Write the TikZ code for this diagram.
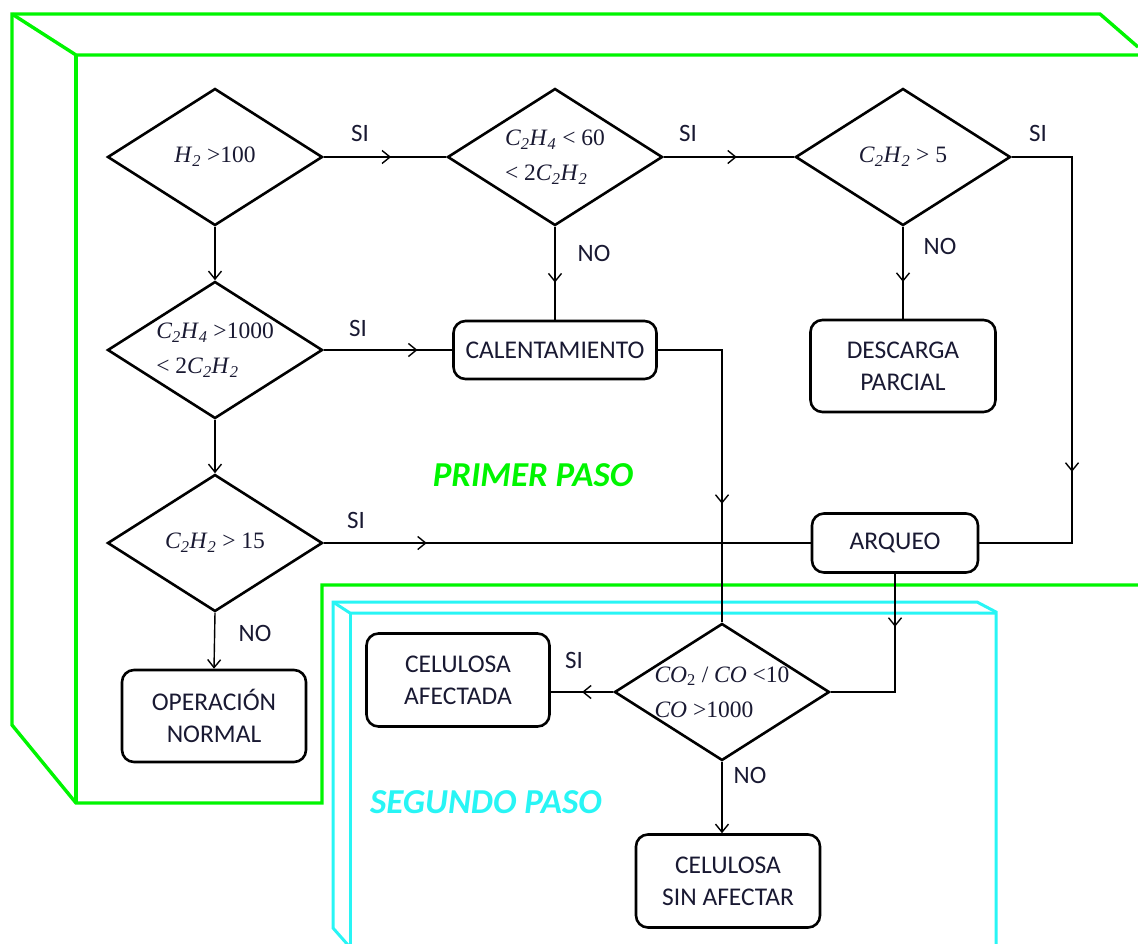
\documentclass[tikz,border=0pt]{standalone}
\usepackage{fontspec}
\setmainfont{Carlito}
\newfontfamily\tms{Liberation Serif}
\usetikzlibrary{shapes.geometric,arrows.meta,decorations.markings}
\definecolor{fgreen}{RGB}{0,245,0}
\definecolor{fcyan}{RGB}{40,245,245}
\definecolor{txt}{RGB}{25,25,50}
\newcommand{\ch}[2]{\textit{#1}\textsubscript{\textit{#2}}}
\tikzset{
  dia/.style={diamond, draw, line width=2.6pt, minimum width=215pt, minimum height=137pt,
    inner sep=0pt, shape aspect=1.57, font=\tms\fontsize{23.5}{35}\selectfont, align=left, text=txt},
  stepbox/.style={draw, rounded corners=12pt, line width=2.6pt, font=\fontsize{25.5}{32}\selectfont,
    align=center, inner sep=0pt, text=txt},
  conn/.style={line width=1.4pt},
  endarr/.style={-{Straight Barb[length=8pt,width=13pt]}},
  marr/.style={postaction={decorate},decoration={markings,mark=at position #1 with {\arrow{Straight Barb[length=8pt,width=13pt]}}}},
  lbl/.style={font=\fontsize{25}{28}\selectfont, text=txt, inner sep=0pt},
  gframe/.style={draw=fgreen, line width=3.4pt, line join=miter},
  cframe/.style={draw=fcyan, line width=3pt, line join=miter},
  paso/.style={font=\bfseries\itshape\fontsize{35}{40}\selectfont, inner sep=0pt}
}
\begin{document}
\begin{tikzpicture}[x=1pt,y=-1pt]
\useasboundingbox (0,0) rectangle (1138,943);
% green frame
\draw[gframe] (1138,47) -- (1100,14) -- (12,14) -- (12,725) -- (76,803) -- (322,803) -- (322,585) -- (1140,585);
\draw[gframe] (12,14) -- (76,55) -- (1140,55);
\draw[gframe] (76,55) -- (76,803);
% cyan frame
\draw[cframe] (996,945) -- (996,612) -- (977,602) -- (333,602) -- (333,928) -- (348,945);
\draw[cframe] (333,602) -- (350,613) -- (996,613);
\draw[cframe] (350,613) -- (350,945);

% diamonds
\node[dia] (d1) at (215,157) {\ch{H}{2} >100};
\node[dia] (d2) at (555,157) {\ch{C}{2}\ch{H}{4} < 60\\< 2\ch{C}{2}\ch{H}{2}};
\node[dia] (d3) at (903,157) {\ch{C}{2}\ch{H}{2} > 5};
\node[dia] (d4) at (215,350) {\ch{C}{2}\ch{H}{4} >1000\\< 2\ch{C}{2}\ch{H}{2}};
\node[dia] (d5) at (215,543) {\ch{C}{2}\ch{H}{2} > 15};
\node[dia] (d6) at (722,692) {\textit{CO}\textsubscript{2} / \textit{CO} <10\\\textit{CO} >1000};

% boxes
\node[stepbox, minimum width=203pt, minimum height=58pt] (cal) at (555,350) {CALENTAMIENTO};
\node[stepbox, minimum width=185pt, minimum height=92pt] (desc) at (903,366) {DESCARGA\\PARCIAL};
\node[stepbox, minimum width=166pt, minimum height=59pt] (arq) at (895,543) {ARQUEO};
\node[stepbox, minimum width=184pt, minimum height=92pt] (opn) at (214,716) {OPERACIÓN\\NORMAL};
\node[stepbox, minimum width=183pt, minimum height=93pt] (caf) at (458,680) {CELULOSA\\AFECTADA};
\node[stepbox, minimum width=184pt, minimum height=93pt] (csa) at (728,881) {CELULOSA\\SIN AFECTAR};

% connectors
\draw[conn, marr=0.55] (d1.east) -- (d2.west);
\draw[conn, marr=0.56] (d2.east) -- (d3.west);
\draw[conn, marr=375pt] (d3.east) -| (1072,543) -- (arq.east);
\draw[conn, endarr] (d1.south) -- (d4.north);
\draw[conn, endarr] (d4.south) -- (d5.north);
\draw[conn, endarr] (d5.south) -- (opn.north);
\draw[conn, marr=0.6] (d2.south) -- (cal.north);
\draw[conn, marr=0.6] (d3.south) -- (desc.north);
\draw[conn, marr=0.73] (d4.east) -- (cal.west);
\draw[conn, marr=218pt] (cal.east) -| (d6.north);
\draw[conn, marr=103pt] (d5.east) -- (arq.west);
\draw[conn, marr=53pt] (arq.south) |- (d6.east);
\draw[conn, marr=0.5] (d6.west) -- (d6.west -| caf.east);
\draw[conn, endarr] (d6.south) -- (d6.south |- csa.north);

% labels
\node[lbl] (s1) at (360,133) {SI};
\node[lbl] (s2) at (688,133) {SI};
\node[lbl] (s3) at (1038,133) {SI};
\node[lbl] (s4) at (358,328) {SI};
\node[lbl] (s5) at (356,520) {SI};
\node[lbl] (s6) at (574,660) {SI};
\node[lbl] (n1) at (594,253) {NO};
\node[lbl] (n2) at (940,246) {NO};
\node[lbl] (n3) at (255,633) {NO};
\node[lbl] (n4) at (750,775) {NO};

\node[paso, text=fgreen] (p1) at (533,475) {PRIMER PASO};
\node[paso, text=fcyan] (p2) at (486,802) {SEGUNDO PASO};
\end{tikzpicture}
\end{document}
